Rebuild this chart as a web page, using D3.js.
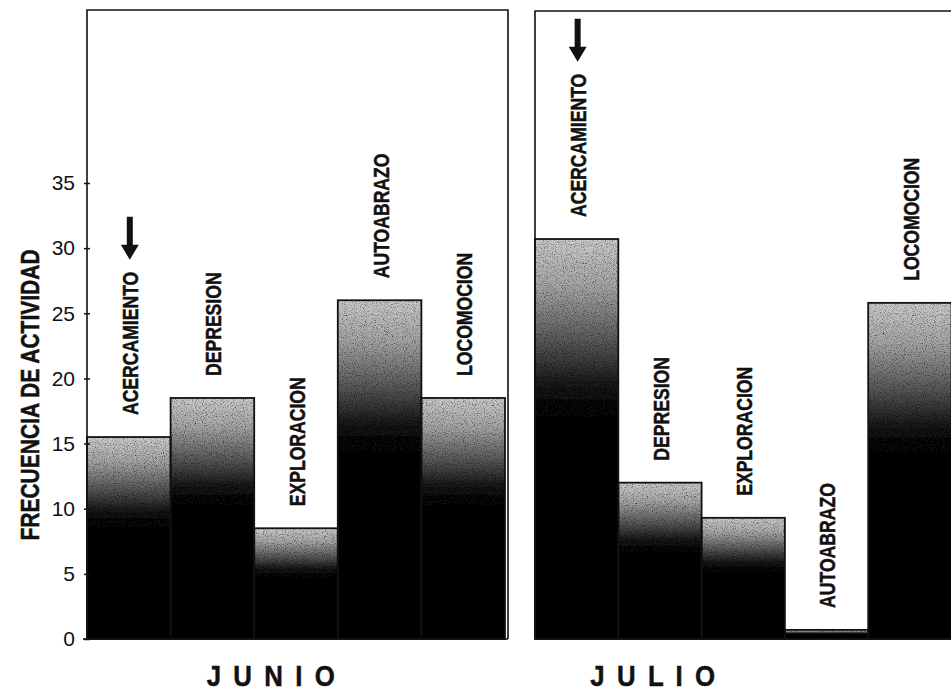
<!DOCTYPE html>
<html>
<head>
<meta charset="utf-8">
<script src="https://cdn.jsdelivr.net/npm/d3@7"></script>
<style>
  html, body { margin: 0; padding: 0; background: #fff; }
  svg { display: block; }
  .lbl { font-family: "Liberation Sans", Arial, sans-serif; font-weight: bold; stroke: #111; stroke-width: 0.5px; }
</style>
</head>
<body>
<svg id="chart" width="951" height="695"></svg>
<script>
// ---- data ----
const categories = ["ACERCAMIENTO", "DEPRESION", "EXPLORACION", "AUTOABRAZO", "LOCOMOCION"];
const junioValues = [15.5, 18.5, 8.5, 26, 18.5];
const julioValues = [30.7, 12, 9.3, 0.7, 25.8];
const panelTitles = ["J U N I O", "J U L I O"];
const yTicks = [0, 5, 10, 15, 20, 25, 30, 35];
const yTitle = "FRECUENCIA DE ACTIVIDAD";
const arrowCategory = "ACERCAMIENTO";

const svg = d3.select("#chart");

// gradient fill for bars
const defs = svg.append("defs");
const grad = defs.append("linearGradient").attr("id", "barGrad")
  .attr("x1", 0).attr("y1", 0).attr("x2", 0).attr("y2", 1);
[[0, "#cccccc"], [0.12, "#a6a6a6"], [0.24, "#626262"], [0.36, "#1c1c1c"], [0.45, "#050505"], [1, "#000"]]
  .forEach(([o, c]) => grad.append("stop").attr("offset", o).attr("stop-color", c));

// speckle noise filter
const f = defs.append("filter").attr("id", "speckle").attr("x", 0).attr("y", 0).attr("width", 1).attr("height", 1);
f.append("feTurbulence").attr("type", "fractalNoise").attr("baseFrequency", 0.9).attr("numOctaves", 2).attr("seed", 3).attr("result", "noise");
f.append("feColorMatrix").attr("in", "noise").attr("type", "matrix")
  .attr("values", "0 0 0 0 0  0 0 0 0 0  0 0 0 0 0  0 0 0 2.2 -1.0").attr("result", "dark");
f.append("feComposite").attr("in", "dark").attr("in2", "SourceGraphic").attr("operator", "in").attr("result", "darkIn");
f.append("feMerge").selectAll("feMergeNode").data(["SourceGraphic", "darkIn"]).join("feMergeNode").attr("in", d => d);

const yBase = 639;
const y = d3.scaleLinear().domain([0, 35]).range([yBase, 183]);

const panels = [
  { values: junioValues, x0: 87, x1: 508, barsEnd: 505, top: 10, right: true, title: panelTitles[0], titleX: 272 },
  { values: julioValues, x0: 535, x1: 970, barsEnd: 951.5, top: 11, right: false, title: panelTitles[1], titleX: 654 }
];

panels.forEach((p, pi) => {
  const g = svg.append("g");
  const x = d3.scaleBand().domain(categories).range([p.x0, p.barsEnd]).paddingInner(0).paddingOuter(0);
  const rows = categories.map((c, i) => ({ c, v: p.values[i] }));

  // bars
  g.selectAll("rect.bar").data(rows)
    .join("rect").attr("class", "bar")
    .attr("x", d => x(d.c)).attr("width", x.bandwidth())
    .attr("y", d => y(d.v)).attr("height", d => yBase - y(d.v))
    .attr("fill", "url(#barGrad)").attr("filter", "url(#speckle)");
  g.selectAll("rect.barOutline").data(rows)
    .join("rect").attr("class", "barOutline")
    .attr("x", d => x(d.c)).attr("width", x.bandwidth())
    .attr("y", d => y(d.v)).attr("height", d => yBase - y(d.v))
    .attr("fill", "none").attr("stroke", "#111").attr("stroke-width", 1.8);

  // frame
  const fr = d3.path();
  fr.moveTo(p.x0, yBase); fr.lineTo(p.x0, p.top); fr.lineTo(p.x1, p.top);
  if (p.right) fr.lineTo(p.x1, yBase);
  g.append("path").attr("d", fr.toString()).attr("fill", "none").attr("stroke", "#111").attr("stroke-width", 1.6);
  g.append("line").attr("x1", p.x0 - (pi === 0 ? 4 : 0)).attr("x2", p.x1).attr("y1", yBase).attr("y2", yBase)
    .attr("stroke", "#111").attr("stroke-width", 1.6);

  // labels
  rows.forEach(d => {
    const cx = x(d.c) + x.bandwidth() / 2 + 1;
    const bottom = y(d.v) - 22;
    const t = g.append("text").attr("class", "lbl")
      .attr("transform", `translate(${cx},${bottom}) rotate(-90) scale(0.8,1)`)
      .attr("dy", "0.36em").attr("font-size", 22).attr("fill", "#111")
      .text(d.c);
    if (d.c === arrowCategory) {
      const len = t.node().getComputedTextLength() * 0.8;
      const ab = bottom - len - 12; // arrow tip
      const al = 43;
      const ap = d3.path();
      ap.moveTo(cx - 3, ab - al); ap.lineTo(cx + 3, ab - al); ap.lineTo(cx + 3, ab - 15);
      ap.lineTo(cx + 9, ab - 15); ap.lineTo(cx, ab); ap.lineTo(cx - 9, ab - 15);
      ap.lineTo(cx - 3, ab - 15); ap.closePath();
      g.append("path").attr("d", ap.toString()).attr("fill", "#111");
    }
  });

  // panel title
  g.append("text").attr("class", "lbl")
    .attr("transform", `translate(${p.titleX},675) scale(0.86,1)`)
    .attr("dy", "0.36em")
    .attr("text-anchor", "middle").attr("font-size", 30).attr("fill", "#111")
    .attr("letter-spacing", 3)
    .text(p.title);
});

// y axis (left panel)
const axis = d3.axisLeft(y).tickValues(yTicks).tickSize(5).tickPadding(8).tickFormat(d3.format("d"));
const ag = svg.append("g").attr("transform", "translate(88,0)").call(axis);
ag.select(".domain").remove();
ag.attr("font-family", null);
ag.selectAll(".tick line").attr("x2", 2).attr("x1", -4).attr("stroke", "#111").attr("stroke-width", 1.5);
ag.selectAll(".tick text").attr("font-family", "'Liberation Sans', Arial, sans-serif")
  .attr("font-size", 21).attr("fill", "#111").attr("x", -13);

// y title
svg.append("text").attr("class", "lbl")
  .attr("transform", `translate(30,395) rotate(-90) scale(0.84,1)`)
  .attr("text-anchor", "middle").attr("dy", "0.36em")
  .attr("font-size", 25).attr("fill", "#111")
  .text(yTitle);
</script>
</body>
</html>
